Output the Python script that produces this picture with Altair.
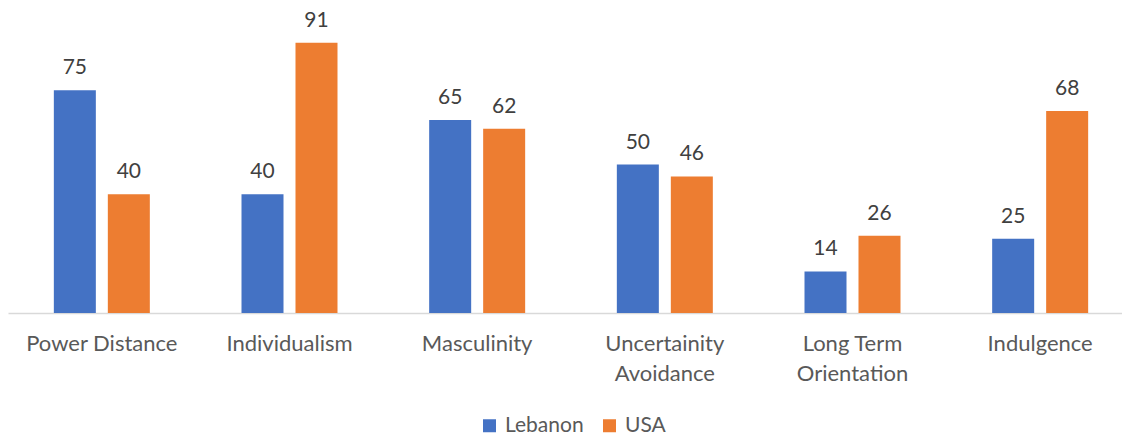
import altair as alt
import pandas as pd

categories = ["Power Distance", "Individualism", "Masculinity",
              "Uncertainity Avoidance", "Long Term Orientation", "Indulgence"]
lebanon = [75, 40, 65, 50, 14, 25]
usa = [40, 91, 62, 46, 26, 68]
series = ["Lebanon", "USA"]
colors = ["#4472C4", "#ED7D31"]

rows = []
for c, a, b in zip(categories, lebanon, usa):
    rows.append({"category": c, "country": "Lebanon", "value": a})
    rows.append({"category": c, "country": "USA", "value": b})
df = pd.DataFrame(rows)

label_expr = ("datum.label == 'Uncertainity Avoidance' ? ['Uncertainity', 'Avoidance'] : "
              "datum.label == 'Long Term Orientation' ? ['Long Term', 'Orientation'] : datum.label")

x = alt.X("category:N", sort=categories, title=None,
          scale=alt.Scale(range=[8, 1134], paddingInner=0, paddingOuter=0),
          axis=alt.Axis(labelAngle=0, labelFont="Lato", labelFontSize=22,
                        labelColor="#595959", labelPadding=20, ticks=False,
                        domainColor="#D9D9D9", domainWidth=1.5,
                        labelLineHeight=30, labelExpr=label_expr,
                        labelBaseline="top"))
xo = alt.XOffset("country:N", sort=series,
                 scale=alt.Scale(paddingInner=0.222, paddingOuter=0.849))
y = alt.Y("value:Q", scale=alt.Scale(domain=[0, 100]), axis=None)

bars = alt.Chart(df).mark_bar().encode(
    x=x, xOffset=xo, y=y,
    color=alt.Color("country:N", sort=series,
                    scale=alt.Scale(domain=series, range=colors),
                    legend=alt.Legend(title=None, orient="none", legendX=479, legendY=399,
                                      direction="horizontal", symbolType="square",
                                      symbolSize=169, symbolStrokeWidth=0,
                                      labelFont="Lato", labelFontSize=21,
                                      labelColor="#595959", labelOffset=5,
                                      columnPadding=15))
)

labels = alt.Chart(df).mark_text(font="Lato", fontSize=21, color="#404040",
                                 baseline="alphabetic", dy=-16).encode(
    x=x, xOffset=xo, y=y, text="value:Q"
)

chart = alt.layer(bars, labels).properties(
    width=1122, height=297,
    padding={"left": 0, "top": 16, "right": 0, "bottom": 125},
    autosize=alt.AutoSizeParams(type="none"),
).configure(background="white").configure_view(strokeWidth=0, stroke="transparent")

chart.save("out.html", embed_options={"renderer": "svg", "actions": False})
